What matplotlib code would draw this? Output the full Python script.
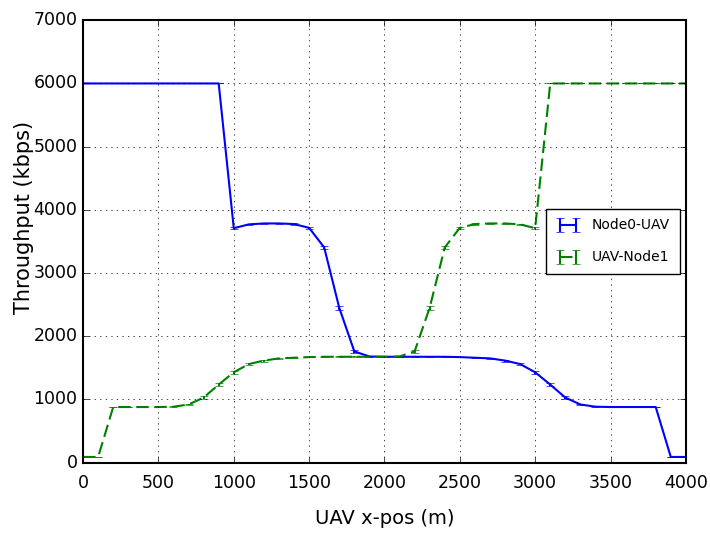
import matplotlib
matplotlib.use('Agg')
import matplotlib.pyplot as plt
import numpy as np

plt.style.use('classic')
plt.rcParams['font.family'] = 'DejaVu Sans'

# UAV position along x (m), one sample every 100 m
x_pos = np.arange(0, 4001, 100)

# Node0 -> UAV throughput (kbps)
node0_uav = [6000, 6000, 6000, 6000, 6000, 6000, 6000, 6000, 6000, 6000,
             3710, 3770, 3785, 3785, 3775, 3715, 3405, 2450, 1760, 1680,
             1675, 1675, 1675, 1675, 1675, 1670, 1660, 1650, 1615, 1560,
             1430, 1235, 1030, 920, 885, 880, 880, 880, 880, 90, 90]
node0_err = [0, 0, 0, 0, 0, 0, 0, 0, 0, 0,
             20, 10, 10, 10, 10, 15, 25, 30, 20, 10,
             5, 5, 5, 5, 5, 5, 5, 10, 15, 20,
             25, 25, 20, 10, 5, 5, 5, 5, 5, 0, 0]

# UAV -> Node1 throughput (kbps)
uav_node1 = [90, 90, 880, 880, 880, 880, 885, 920, 1030, 1235,
             1430, 1560, 1615, 1650, 1660, 1670, 1675, 1675, 1675, 1675,
             1675, 1680, 1760, 2450, 3405, 3715, 3775, 3785, 3785, 3770,
             3710, 6000, 6000, 6000, 6000, 6000, 6000, 6000, 6000, 6000, 6000]
node1_err = node0_err[::-1]

fig = plt.figure(figsize=(7.1, 5.33), dpi=100)
ax = fig.add_axes([0.117, 0.132, 0.849, 0.830])

ax.errorbar(x_pos, node0_uav, yerr=node0_err, color='b', ls='-', lw=1.5,
            capsize=3, label='Node0-UAV')
eb = ax.errorbar(x_pos, uav_node1, yerr=node1_err, color='g', ls='--', lw=1.5,
                 capsize=3, label='UAV-Node1')
eb[0].set_dashes((9, 4))

ax.set_xlim(0, 4000)
ax.set_ylim(0, 7000)
ax.set_xticks(np.arange(0, 4001, 500))
ax.set_yticks(np.arange(0, 7001, 1000))
ax.tick_params(labelsize=12.5)
ax.tick_params(axis='x', pad=8)
for s in ax.spines.values():
    s.set_linewidth(1.5)
ax.grid(True)
ax.set_xlabel('UAV x-pos (m)', fontsize=14)
ax.set_ylabel('Throughput (kbps)', fontsize=15)
ax.xaxis.set_label_coords(0.5, -0.105)
ax.yaxis.set_label_coords(-0.082, 0.555)
ax.legend(loc='center right', fontsize=10, borderaxespad=0.45,
          borderpad=0.7, labelspacing=1.3, handlelength=1.8, handletextpad=0.8)

fig.savefig('out.png', dpi=100)
